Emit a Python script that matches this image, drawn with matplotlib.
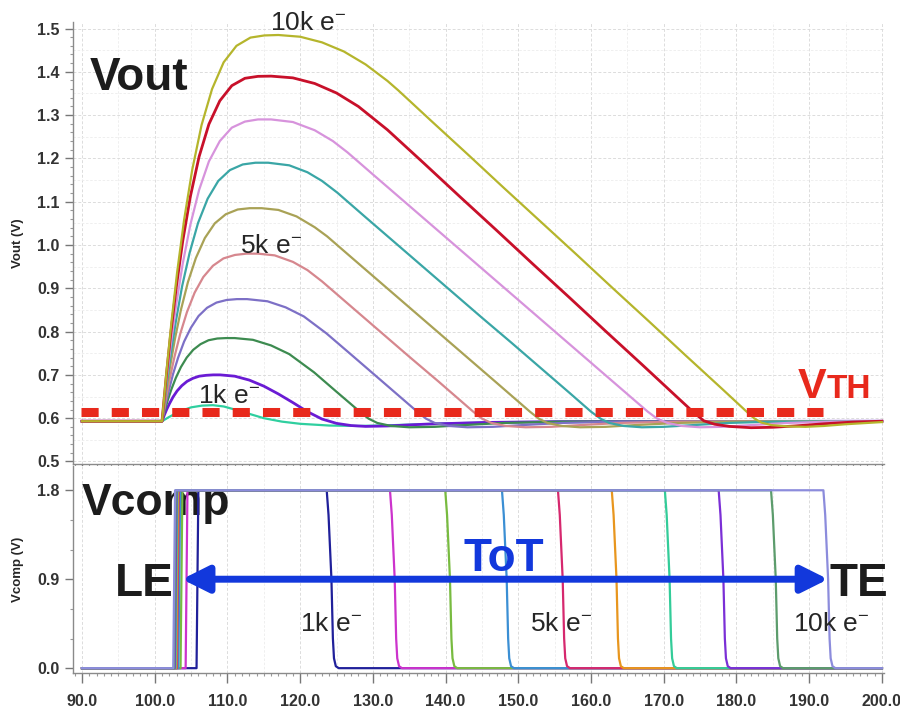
"""
Vout / Vcomp transient response vs injected charge (1k..10k e-)
Top: shaper output with threshold VTH; bottom: comparator output, ToT.
"""

import matplotlib
matplotlib.use("Agg")
import matplotlib.pyplot as plt
import numpy as np
from matplotlib.ticker import FormatStrFormatter, MultipleLocator

plt.rcParams["font.family"] = ["Liberation Sans", "DejaVu Sans"]
plt.rcParams["mathtext.fontset"] = "custom"
plt.rcParams["mathtext.rm"] = "Liberation Sans"
plt.rcParams["mathtext.bf"] = "Liberation Sans:bold"
plt.rcParams["mathtext.default"] = "regular"

# ---------------------------------------------------------------------------
# Data (time in ns, voltage in V)
# ---------------------------------------------------------------------------

t_1k = [90, 101, 102, 103, 104, 105, 106.5, 108, 109.5, 111, 113, 115, 117.5, 120, 124, 128, 133, 140, 150, 200]
v_1k = [.593, .593, .603, .612, .619, .625, .629, .630, .627, .620, .610, .600, .592, .587, .583, .582, .584,
        .588, .591, .593]

t_2k = [90, 101, 101.32, 101.64, 102.04, 102.52, 103.08, 103.72, 104.44, 105.24, 106.12, 107.08, 108.04, 109,
        111, 113, 115, 117, 119, 121, 123, 125, 127, 129, 132, 137, 145, 155, 200]
v_2k = [.593, .593, .607, .620, .634, .649, .663, .675, .685, .692, .697, .699, .700, .700,
        .697, .688, .674, .656, .636, .615, .598, .588, .583, .581, .582, .586, .590, .592, .593]

t_3k = [90, 101, 101.4, 101.8, 102.3, 102.9, 103.6, 104.4, 105.3, 106.3, 107.4, 108.6, 109.8, 111,
        113.5, 116, 118.5, 121.9, 125, 128.2, 129.4, 130.6, 132.5, 135, 138.5, 142.5, 148, 156, 200]
v_3k = [.593, .593, .619, .642, .667, .693, .718, .740, .758, .771, .780, .784, .785, .785,
        .781, .768, .748, .706, .661, .615, .599, .589, .582, .579, .580, .584, .589, .592, .593]

t_4k = [90, 101, 101.47, 101.94, 102.52, 103.22, 104.04, 104.98, 106.03, 107.2, 108.49, 109.89, 111.3, 112.7,
        115.5, 118, 120.5, 123.6, 127, 131, 136.1, 137.3, 138.5, 140.5, 143, 146.5, 150.5, 156, 164, 200]
v_4k = [.593, .593, .631, .664, .702, .740, .777, .809, .836, .855, .867, .873, .875, .875,
        .870, .856, .835, .796, .747, .689, .615, .599, .589, .582, .579, .580, .584, .589, .592, .593]

t_5k = [90, 101, 101.53, 102.06, 102.72, 103.51, 104.43, 105.49, 106.68, 108.0, 109.45, 111.03, 112.62, 114.2,
        116.5, 119, 121, 123, 127, 131, 135, 139, 143.8, 145, 146.3, 148.3, 151, 154.5, 158.5, 164, 172, 200]
v_5k = [.593, .593, .645, .691, .742, .795, .845, .890, .926, .952, .969, .977, .980, .980,
        .976, .961, .942, .916, .858, .800, .742, .685, .615, .599, .589, .582, .579, .580, .584, .589, .592, .593]

t_6k = [90, 101, 101.55, 102.1, 102.78, 103.6, 104.56, 105.66, 106.89, 108.26, 109.77, 111.41, 113.06, 114.7,
        117, 119.5, 122, 123.7, 127, 131, 135, 139, 143, 147, 151.6, 152.8, 154, 156, 158.5, 162, 166, 172,
        180, 200]
v_6k = [.593, .593, .659, .718, .783, .850, .914, .970, 1.016, 1.050, 1.071, 1.082, 1.085, 1.085,
        1.081, 1.066, 1.041, 1.020, .972, .914, .856, .798, .740, .682, .615, .599, .589, .582, .579, .580,
        .584, .589, .592, .593]

t_7k = [90, 101, 101.58, 102.17, 102.9, 103.77, 104.8, 105.96, 107.28, 108.74, 110.34, 112.1, 113.85, 115.6,
        118.5, 121, 123, 125.1, 129, 133, 137, 141, 145, 149, 153, 157, 160, 161.3, 162.5, 164.5, 167, 170,
        174, 179, 185, 200]
v_7k = [.593, .593, .672, .744, .823, .905, .982, 1.051, 1.107, 1.148, 1.173, 1.186, 1.190, 1.190,
        1.184, 1.168, 1.148, 1.121, 1.064, 1.006, .948, .890, .832, .775, .717, .659, .615, .599, .589, .582,
        .579, .580, .584, .589, .592, .593]

t_8k = [90, 101, 101.6, 102.2, 102.95, 103.85, 104.9, 106.1, 107.45, 108.95, 110.6, 112.4, 114.2, 116,
        119, 122, 124.5, 126.5, 130, 134, 138, 142, 146, 150, 154, 158, 162, 166, 167.8, 169, 170.5, 172.5,
        175, 178, 182, 187, 193, 200]
v_8k = [.593, .593, .686, .769, .862, .957, 1.047, 1.127, 1.193, 1.240, 1.271, 1.285, 1.290, 1.290,
        1.284, 1.265, 1.240, 1.214, 1.163, 1.105, 1.047, .989, .931, .873, .815, .757, .699, .641, .615, .600,
        .589, .582, .579, .580, .584, .589, .592, .593]

t_9k = [90, 101, 101.6, 102.2, 102.95, 103.85, 104.9, 106.1, 107.45, 108.95, 110.6, 112.4, 114.2, 116,
        119, 122, 125, 128, 132, 137, 142, 147, 152, 157, 162, 167, 172, 174, 175.5, 177, 179, 182, 185, 188,
        192, 196, 200]
v_9k = [.593, .593, .699, .795, .901, 1.009, 1.112, 1.204, 1.279, 1.333, 1.368, 1.385, 1.3895, 1.390,
        1.386, 1.373, 1.351, 1.320, 1.266, 1.189, 1.111, 1.034, .956, .879, .801, .724, .646, .615, .594, .586,
        .581, .578, .579, .582, .587, .591, .593]

t_10k = [90, 101, 101.64, 102.28, 103.08, 104.04, 105.16, 106.44, 107.88, 109.48, 111.24, 113.16, 115.08, 117,
         120, 123, 126, 129, 132, 133.5, 138, 143, 148, 153, 158, 163, 168, 173, 178, 181.4, 182.4, 183.4,
         184.8, 187, 189.5, 192, 195, 198, 200]
v_10k = [.593, .593, .712, .819, .937, 1.058, 1.174, 1.277, 1.360, 1.422, 1.460, 1.479, 1.484, 1.485,
         1.481, 1.468, 1.447, 1.417, 1.379, 1.357, 1.287, 1.210, 1.132, 1.055, .978, .900, .823, .745, .668,
         .615, .600, .590, .584, .581, .580, .582, .586, .589, .591]

VTH = 0.614
VTH_T = [89.8, 191.9]

# comparator output: one shared level list, per-charge edge times
comp_v = [0, 0, 1.8, 1.8, 1.55, 0.9, 0.3, 0.1, 0.02, 0, 0]
comp_t_1k = [90, 105.75, 106.0, 123.65, 123.9, 124.3, 124.5, 124.65, 124.9, 125.3, 200]
comp_t_2k = [90, 104.25, 104.5, 132.35, 132.6, 133.0, 133.2, 133.35, 133.6, 134.0, 200]
comp_t_3k = [90, 103.55, 103.8, 139.95, 140.2, 140.6, 140.8, 140.95, 141.2, 141.6, 200]
comp_t_4k = [90, 103.25, 103.5, 147.75, 148.0, 148.4, 148.6, 148.75, 149.0, 149.4, 200]
comp_t_5k = [90, 103.05, 103.3, 155.45, 155.7, 156.1, 156.3, 156.45, 156.7, 157.1, 200]
comp_t_6k = [90, 102.95, 103.2, 162.85, 163.1, 163.5, 163.7, 163.85, 164.1, 164.5, 200]
comp_t_7k = [90, 102.85, 103.1, 170.15, 170.4, 170.8, 171.0, 171.15, 171.4, 171.8, 200]
comp_t_8k = [90, 102.75, 103.0, 177.55, 177.8, 178.2, 178.4, 178.55, 178.8, 179.2, 200]
comp_t_9k = [90, 102.65, 102.9, 184.75, 185.0, 185.4, 185.6, 185.75, 186.0, 186.4, 200]
comp_t_10k = [90, 102.55, 102.8, 191.95, 192.2, 192.6, 192.8, 192.95, 193.2, 193.6, 200]

# ToT arrow from leading edge to trailing edge
TOT_LE = 103.75
TOT_TE = 192.6
TOT_LEVEL = 0.9

X_TICKS = [90, 100, 110, 120, 130, 140, 150, 160, 170, 180, 190, 200]
VOUT_TICKS = [0.5, 0.6, 0.7, 0.8, 0.9, 1.0, 1.1, 1.2, 1.3, 1.4, 1.5]
VCOMP_TICKS = [0.0, 0.9, 1.8]

# ---------------------------------------------------------------------------
# Style
# ---------------------------------------------------------------------------

VOUT_COLORS = ["#2fcf9f", "#6a1bd4", "#3d8b50", "#7d70c6", "#d6878e",
               "#a9a256", "#3aa6a6", "#d793dc", "#c8102a", "#b5b52c"]
COMP_COLORS = ["#20209a", "#cc33cc", "#78bb40", "#3b8fd4", "#d6286e",
               "#e8961e", "#33cc99", "#7b2fd6", "#5c9c6c", "#8c8cdc"]
RED = "#e8291c"
BLUE = "#1238dc"
TXT = "#1c1c1c"
LBL = "#262626"
XLIM = (88.76, 200.27)


def style_axis(ax):
    for side in ("top", "right"):
        ax.spines[side].set_visible(False)
    for side in ("left", "bottom"):
        ax.spines[side].set_color("#8a8a8a")
        ax.spines[side].set_linewidth(1.0)
    ax.tick_params(which="major", direction="out", length=6, width=1, color="#777777",
                   labelsize=11.5, labelcolor="#333333")
    ax.tick_params(which="minor", direction="out", length=2.5, width=0.8, color="#999999")
    ax.set_xlim(*XLIM)
    ax.set_xticks(X_TICKS)
    ax.xaxis.set_minor_locator(MultipleLocator(1))
    for x in np.arange(90, 201, 10):
        ax.axvline(x, color="#dcdcdc", lw=0.7, ls=(0, (3, 2)), zorder=0)
    for x in np.arange(95, 200, 10):
        ax.axvline(x, color="#ededed", lw=0.6, ls=(0, (3, 2)), zorder=0)


def main():
    fig = plt.figure(figsize=(9, 7.1), dpi=100)
    ax1 = fig.add_axes([0.0811, 0.3465, 0.901, 0.6225])
    ax2 = fig.add_axes([0.0811, 0.0521, 0.901, 0.2915])

    # ---- Vout ----
    vout = [(t_1k, v_1k), (t_2k, v_2k), (t_3k, v_3k), (t_4k, v_4k), (t_5k, v_5k),
            (t_6k, v_6k), (t_7k, v_7k), (t_8k, v_8k), (t_9k, v_9k), (t_10k, v_10k)]
    for i, ((t, v), color) in enumerate(zip(vout, VOUT_COLORS)):
        assert len(t) == len(v), (i, len(t), len(v))
        lw = 2.0 if i in (1, 8) else 1.6
        ax1.plot(t, v, color=color, lw=lw, zorder=3, solid_joinstyle="round")

    ax1.plot(VTH_T, [VTH, VTH], color=RED, lw=6.5, ls=(0, (1.9, 1.45)),
             dash_capstyle="butt", zorder=5)

    style_axis(ax1)
    ax1.set_ylim(0.4942, 1.515)
    ax1.set_yticks(VOUT_TICKS)
    ax1.yaxis.set_major_formatter(FormatStrFormatter("%.1f"))
    ax1.yaxis.set_minor_locator(MultipleLocator(0.02))
    for lab in ax1.get_yticklabels():
        lab.set_fontweight("bold")
    ax1.tick_params(axis="x", labelbottom=False)
    for y in np.arange(0.5, 1.51, 0.1):
        ax1.axhline(y, color="#dcdcdc", lw=0.7, ls=(0, (3, 2)), zorder=0)
    for y in np.arange(0.55, 1.5, 0.1):
        ax1.axhline(y, color="#ededed", lw=0.6, ls=(0, (3, 2)), zorder=0)
    ax1.set_ylabel("Vout (V)", fontsize=9.5, fontweight="bold", color=LBL)
    ax1.yaxis.set_label_coords(-0.061, 0.5)

    ax1.text(91.1, 1.358, "Vout", fontsize=33, fontweight="bold", color=TXT, va="baseline", zorder=6)
    ax1.text(115.85, 1.4965, "10k e$^{-}$", fontsize=19, color=LBL, va="baseline", zorder=6)
    ax1.text(111.7, 0.982, "5k e$^{-}$", fontsize=19, color=LBL, va="baseline", zorder=6)
    ax1.text(105.95, 0.635, "1k e$^{-}$", fontsize=19, color=LBL, va="baseline", zorder=6)
    ax1.text(188.4, 0.646, "V", fontsize=31, fontweight="bold", color=RED, va="baseline", zorder=6)
    ax1.text(192.4, 0.646, "TH", fontsize=24, fontweight="bold", color=RED, va="baseline", zorder=6)

    # ---- Vcomp ----
    comps = [comp_t_1k, comp_t_2k, comp_t_3k, comp_t_4k, comp_t_5k,
             comp_t_6k, comp_t_7k, comp_t_8k, comp_t_9k, comp_t_10k]
    for t, color in zip(comps, COMP_COLORS):
        ax2.plot(t, comp_v, color=color, lw=1.6, zorder=3, solid_joinstyle="round")

    ax2.annotate("", xy=(TOT_LE, TOT_LEVEL), xytext=(TOT_TE, TOT_LEVEL),
                 arrowprops=dict(arrowstyle="<|-|>,head_length=0.4,head_width=0.2",
                                 color=BLUE, lw=5, mutation_scale=40,
                                 shrinkA=0, shrinkB=0), zorder=6)

    style_axis(ax2)
    ax2.set_ylim(-0.049, 2.045)
    ax2.set_yticks(VCOMP_TICKS)
    ax2.yaxis.set_major_formatter(FormatStrFormatter("%.1f"))
    ax2.yaxis.set_minor_locator(MultipleLocator(0.3))
    ax2.xaxis.set_major_formatter(FormatStrFormatter("%.1f"))
    for lab in ax2.get_xticklabels() + ax2.get_yticklabels():
        lab.set_fontweight("bold")
    ax2.tick_params(axis="x", which="major", length=7, pad=8)
    ax2.set_ylabel("Vcomp (V)", fontsize=9.5, fontweight="bold", color=LBL)
    ax2.yaxis.set_label_coords(-0.061, 0.5)

    ax2.text(90.0, 1.546, "Vcomp", fontsize=32, fontweight="bold", color=TXT, va="baseline", zorder=2)
    ax2.text(94.5, 0.734, "LE", fontsize=33, fontweight="bold", color=TXT, va="baseline", zorder=6)
    ax2.text(192.85, 0.734, "TE", fontsize=33, fontweight="bold", color=TXT, va="baseline", zorder=6)
    ax2.text(142.4, 0.988, "ToT", fontsize=33, fontweight="bold", color=BLUE, va="baseline", zorder=6)
    ax2.text(120.0, 0.372, "1k e$^{-}$", fontsize=19, color=LBL, va="baseline", zorder=6)
    ax2.text(151.6, 0.372, "5k e$^{-}$", fontsize=19, color=LBL, va="baseline", zorder=6)
    ax2.text(187.8, 0.372, "10k e$^{-}$", fontsize=19, color=LBL, va="baseline", zorder=6)

    fig.savefig("out.png", dpi=100, facecolor="white")
    plt.close(fig)


if __name__ == "__main__":
    main()
